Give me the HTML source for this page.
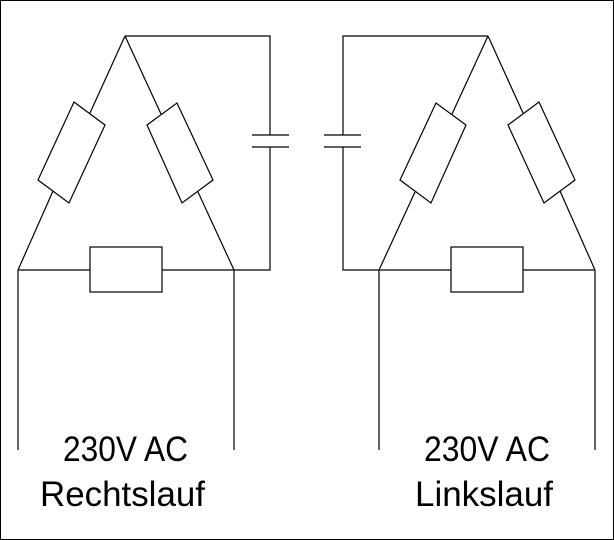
<!DOCTYPE html>
<html><head><style>html,body{margin:0;padding:0;background:#fff}svg{display:block}</style></head>
<body>
<svg width="614" height="540" viewBox="0 0 614 540" xmlns="http://www.w3.org/2000/svg">
<rect x="0.5" y="0.5" width="613" height="539" fill="none" stroke="#000" stroke-width="1"/>
<g fill="none" stroke="#000" stroke-width="1.2" id="L">
<!-- left circuit -->
<polyline points="125,36 270,36 270,135"/>
<polyline points="270,147 270,270 18,270"/>
<line x1="252" y1="135" x2="289" y2="135"/>
<line x1="252" y1="147" x2="289" y2="147"/>
<line x1="125" y1="36" x2="90" y2="113"/>
<line x1="53" y1="191" x2="18" y2="270"/>
<line x1="125" y1="36" x2="161" y2="114"/>
<line x1="198" y1="192" x2="234" y2="270"/>
<polygon points="74,102 105,125 69,203 38,180" fill="#fff"/>
<polygon points="147,125 177,103 213,180 182,203" fill="#fff"/>
<rect x="90" y="247" width="72" height="45" fill="#fff"/>
<line x1="18" y1="270" x2="18" y2="450"/>
<line x1="234" y1="270" x2="234" y2="450"/>
</g>
<use href="#L" transform="translate(613,0) scale(-1,1)"/>
<g font-family="Liberation Sans, sans-serif" font-size="35" fill="#000" font-weight="normal">
<text x="63" y="461" textLength="125" lengthAdjust="spacingAndGlyphs">230V AC</text>
<text x="40" y="506" textLength="165" lengthAdjust="spacingAndGlyphs">Rechtslauf</text>
<text x="424" y="461" textLength="126" lengthAdjust="spacingAndGlyphs">230V AC</text>
<text x="415" y="506" textLength="138" lengthAdjust="spacingAndGlyphs">Linkslauf</text>
</g>
</svg>
</body></html>
